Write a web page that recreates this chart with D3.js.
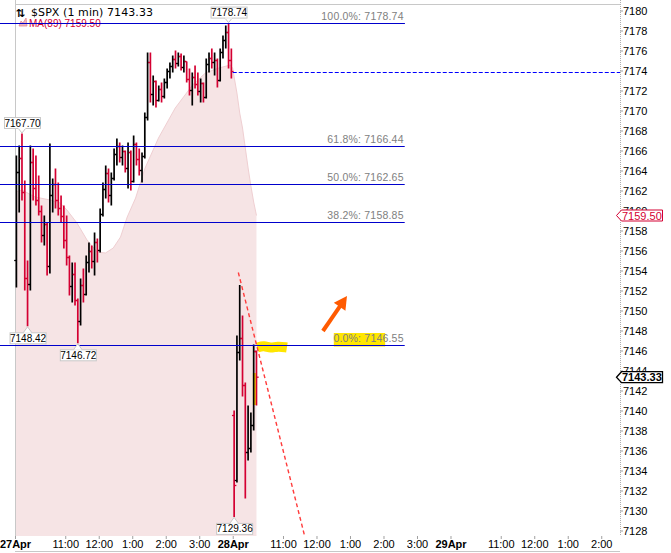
<!DOCTYPE html>
<html>
<head>
<meta charset="utf-8">
<script src="https://cdn.jsdelivr.net/npm/d3@7"></script>
<style>
  body { margin: 0; background: #fff; }
  svg { display: block; font-family: "Liberation Sans", Arial, sans-serif; }
</style>
</head>
<body>
<div id="chart"></div>
<script>
// time axis: session minutes counted from 27Apr 9:30, sessions joined end to end (390 min each)
const barMinutes = [
  2.5, 7.5, 12.5, 17.5, 22.5, 27.5, 32.5, 37.5, 42.5, 47.5,
  52.5, 57.5, 62.5, 67.5, 72.5, 77.5, 82.5, 87.5, 92.5, 97.5,
  102.5, 107.5, 112.5, 117.5, 122.5, 127.5, 132.5, 137.5, 142.5, 147.5,
  152.5, 157.5, 162.5, 167.5, 172.5, 177.5, 182.5, 187.5, 192.5, 197.5,
  202.5, 207.5, 212.5, 217.5, 222.5, 227.5, 232.5, 237.5, 242.5, 247.5,
  252.5, 257.5, 262.5, 267.5, 272.5, 277.5, 282.5, 287.5, 292.5, 297.5,
  302.5, 307.5, 312.5, 317.5, 322.5, 327.5, 332.5, 337.5, 342.5, 347.5,
  352.5, 357.5, 362.5, 367.5, 372.5, 377.5, 382.5, 387.5,
  392.5, 397.5, 402.5, 407.5, 412.5, 417.5, 422.5, 427.5, 432.5
];
const barOpen = [
  7155.0, 7163.8, 7165.2, 7161.8, 7153.2, 7152.6, 7164.8, 7162.2, 7161.0, 7159.9,
  7157.5, 7158.6, 7154.4, 7161.5, 7162.6, 7161.0, 7160.2, 7159.4, 7157.0, 7155.3,
  7152.4, 7153.6, 7151.0, 7148.9, 7152.5, 7151.6, 7154.8, 7155.9, 7154.9, 7156.8,
  7156.0, 7159.6, 7162.1, 7163.7, 7161.5, 7163.2, 7165.6, 7166.4, 7165.3, 7165.9,
  7164.2, 7165.8, 7162.9, 7166.6, 7165.1, 7164.0, 7165.4, 7169.3, 7174.8, 7171.6,
  7172.9, 7171.0, 7172.1, 7171.4, 7172.8, 7173.9, 7174.4, 7175.1, 7174.7, 7175.4,
  7174.3, 7174.9, 7173.1, 7172.0, 7173.3, 7172.6, 7171.9, 7172.7, 7171.3, 7174.6,
  7175.2, 7174.8, 7175.0, 7173.0, 7175.8, 7177.0, 7177.8, 7175.0,
  7139.5, 7133.0, 7145.8, 7147.2, 7142.5, 7135.8, 7136.2, 7138.5, 7145.9
];
const barHigh = [
  7165.5, 7166.5, 7167.7, 7163.0, 7155.0, 7166.5, 7166.2, 7165.5, 7163.5, 7160.5,
  7159.5, 7158.8, 7166.7, 7163.2, 7164.2, 7162.8, 7161.5, 7160.5, 7159.5, 7155.5,
  7154.8, 7154.8, 7151.2, 7153.2, 7154.2, 7155.5, 7156.8, 7156.5, 7157.8, 7157.2,
  7160.2, 7162.8, 7164.5, 7164.2, 7163.8, 7166.2, 7167.2, 7166.8, 7166.5, 7166.0,
  7166.8, 7166.0, 7167.5, 7166.8, 7166.2, 7165.8, 7169.8, 7175.8, 7175.8, 7173.5,
  7173.0, 7172.5, 7172.8, 7173.2, 7174.2, 7174.8, 7175.5, 7176.0, 7175.8, 7175.7,
  7175.5, 7174.9, 7174.2, 7173.8, 7174.5, 7173.8, 7173.2, 7172.8, 7175.2, 7175.8,
  7176.2, 7175.8, 7175.2, 7176.2, 7177.5, 7178.5, 7178.74, 7176.2,
  7140.0, 7147.5, 7152.55, 7149.5, 7142.8, 7140.5, 7139.8, 7146.6, 7146.0
];
const barLow = [
  7152.3, 7159.8, 7161.0, 7152.0, 7148.42, 7152.0, 7161.0, 7160.5, 7159.5, 7156.8,
  7156.5, 7153.5, 7153.7, 7159.8, 7160.2, 7159.5, 7158.8, 7156.2, 7154.5, 7151.5,
  7150.8, 7150.5, 7146.72, 7148.5, 7150.8, 7151.5, 7153.8, 7154.2, 7153.5, 7154.8,
  7155.8, 7159.4, 7161.2, 7160.8, 7160.5, 7163.0, 7164.5, 7164.8, 7164.5, 7163.8,
  7162.2, 7162.0, 7162.8, 7164.5, 7163.5, 7162.8, 7165.2, 7169.0, 7170.8, 7170.5,
  7170.3, 7170.9, 7170.8, 7171.2, 7172.2, 7173.2, 7173.8, 7174.2, 7174.4, 7174.0,
  7173.8, 7172.8, 7171.5, 7170.5, 7172.2, 7171.5, 7170.8, 7170.8, 7171.2, 7173.8,
  7174.2, 7173.5, 7172.3, 7172.9, 7175.2, 7176.2, 7174.2, 7173.2,
  7129.36, 7132.8, 7145.0, 7141.4, 7131.2, 7135.0, 7135.8, 7138.0, 7140.5
];
const barClose = [
  7163.8, 7165.2, 7161.8, 7153.2, 7152.6, 7164.8, 7162.2, 7161.0, 7159.9, 7157.5,
  7158.6, 7154.4, 7161.5, 7162.6, 7161.0, 7160.2, 7159.4, 7157.0, 7155.3, 7152.4,
  7153.6, 7151.0, 7148.9, 7152.5, 7151.6, 7154.8, 7155.9, 7154.9, 7156.8, 7156.0,
  7159.6, 7162.1, 7163.7, 7161.5, 7163.2, 7165.6, 7166.4, 7165.3, 7165.9, 7164.2,
  7165.8, 7162.9, 7166.6, 7165.1, 7164.0, 7165.4, 7169.3, 7174.8, 7171.6, 7172.9,
  7171.0, 7172.1, 7171.4, 7172.8, 7173.9, 7174.4, 7175.1, 7174.7, 7175.4, 7174.3,
  7174.9, 7173.1, 7172.0, 7173.3, 7172.6, 7171.9, 7172.7, 7171.3, 7174.6, 7175.2,
  7174.8, 7175.0, 7173.0, 7175.8, 7177.0, 7177.8, 7175.0, 7173.9,
  7132.5, 7145.8, 7147.2, 7142.5, 7135.8, 7136.2, 7138.5, 7145.9, 7143.33
];

// MA(89)
const maMinutes = [0, 12.6, 36, 63, 81, 93, 111, 129, 147, 162, 176, 189, 201, 216, 233, 257,
  287, 318, 341, 365, 386, 390, 392.5, 397.5, 402.5, 407.5, 412.5, 417.5, 422.5, 427.5, 432.5];
const maValues = [7161.85, 7162.05, 7161.35, 7161.05, 7160.75, 7160.05, 7158.75, 7157.05, 7155.85,
  7155.75, 7156.25, 7157.35, 7159.35, 7161.25, 7164.25, 7167.25, 7170.25, 7172.55, 7173.75,
  7174.25, 7174.55, 7174.2, 7173.35, 7171.75, 7169.75, 7168.25, 7166.25, 7164.25, 7162.45,
  7160.85, 7159.50];

// Fibonacci retracement
const fibLabels = ["100.0%", "61.8%", "50.0%", "38.2%", "0.0%"];
const fibValues = [7178.74, 7166.44, 7162.65, 7158.85, 7146.55];
const fibSpan = [-27, 698];

// previous close line
const prevClose = 7173.9;
const prevCloseSpan = [390, 1084];

// hand drawn trend line and arrow
const trendMinutes = [400, 519];
const trendValues = [7153.8, 7127.4];
const arrowMinutes = [551.6, 594.6];
const arrowValues = [7147.95, 7151.45];

// highlighter marks
const markMinutes = [434, 446, 458, 470, 487];
const markValues = [7146.3, 7146.5, 7146.2, 7146.45, 7146.3];
const labelMarkMinutes = [571, 663];
const labelMarkValues = [7147.75, 7146.4];
const barMarkMinutes = [426, 433.4];
const barMarkValues = [7143.75, 7140.55];

// high / low callouts
const calloutMinutes = [12.5, 382.5, 22.5, 112.5, 392.5];
const calloutValues = [7167.70, 7178.74, 7148.42, 7146.72, 7129.36];
const calloutUp = [true, true, false, false, false];

// axes
const yTicks = [7128, 7130, 7132, 7134, 7136, 7138, 7140, 7142, 7144, 7146, 7148, 7150, 7152,
  7154, 7156, 7158, 7160, 7162, 7164, 7166, 7168, 7170, 7172, 7174, 7176, 7178, 7180];
const xTickMinutes = [0, 90, 150, 210, 270, 330, 390, 480, 540, 600, 660, 720, 780, 870, 930, 990, 1050];
const xTickLabels = ["27Apr", "11:00", "12:00", "1:00", "2:00", "3:00", "28Apr", "11:00", "12:00",
  "1:00", "2:00", "3:00", "29Apr", "11:00", "12:00", "1:00", "2:00"];

const lastPrice = 7143.33;
const maLast = 7159.50;

const W = 671, H = 553;
const svg = d3.select("#chart").append("svg")
    .attr("width", W)
    .attr("height", H);

const x = d3.scaleLinear().domain([0, 1083.6]).range([15, 620]);
const y = d3.scaleLinear().domain([7127.45, 7180.65]).range([536, 4]);

const upColor = "#000000",
    downColor = "#d40032",
    fibColor = "#0000cc";

// MA area
const maPts = maMinutes.map((m, i) => [m, maValues[i]]);
svg.append("path")
    .datum(maPts)
    .attr("d", d3.area().x(d => x(d[0])).y0(536).y1(d => y(d[1])))
    .attr("fill", "#f6e4e5");
svg.append("path")
    .datum(maPts)
    .attr("d", d3.line().x(d => x(d[0])).y(d => y(d[1])))
    .attr("fill", "none")
    .attr("stroke", "#efcfd2")
    .attr("stroke-width", 1);

// frame
svg.append("line").attr("x1", 15).attr("x2", 620).attr("y1", 4.5).attr("y2", 4.5)
    .attr("stroke", "#c8c8c8");
svg.append("line").attr("x1", 15.5).attr("x2", 15.5).attr("y1", 0).attr("y2", 536)
    .attr("stroke", "#c8c8c8");
svg.append("line").attr("x1", 15).attr("x2", 620).attr("y1", 551.5).attr("y2", 551.5)
    .attr("stroke", "#c8c8c8");

// yellow highlighter
svg.append("path")
    .datum(markMinutes.map((m, i) => [m, markValues[i]]))
    .attr("d", d3.line().x(d => x(d[0])).y(d => y(d[1])).curve(d3.curveBasis))
    .attr("fill", "none")
    .attr("stroke", "#ffe600")
    .attr("stroke-width", 10);
svg.append("rect")
    .attr("x", x(labelMarkMinutes[0]))
    .attr("y", y(labelMarkValues[0]))
    .attr("width", x(labelMarkMinutes[1]) - x(labelMarkMinutes[0]))
    .attr("height", y(labelMarkValues[1]) - y(labelMarkValues[0]))
    .attr("fill", "#ffe600");
svg.append("rect")
    .attr("x", x(barMarkMinutes[0]))
    .attr("y", y(barMarkValues[0]))
    .attr("width", x(barMarkMinutes[1]) - x(barMarkMinutes[0]))
    .attr("height", y(barMarkValues[1]) - y(barMarkValues[0]))
    .attr("fill", "#ffe600");

// OHLC bars
const bars = svg.append("g").selectAll("g")
    .data(d3.range(barMinutes.length))
    .join("g")
    .attr("stroke", i => barClose[i] >= barOpen[i] ? upColor : downColor)
    .attr("stroke-width", 1.7);
bars.append("line")
    .attr("x1", i => x(barMinutes[i])).attr("x2", i => x(barMinutes[i]))
    .attr("y1", i => y(barHigh[i])).attr("y2", i => y(barLow[i]));
bars.append("line")
    .attr("x1", i => x(barMinutes[i]) - 2.2).attr("x2", i => x(barMinutes[i]))
    .attr("y1", i => y(barOpen[i])).attr("y2", i => y(barOpen[i]))
    .attr("stroke-width", 1.3);
bars.append("line")
    .attr("x1", i => x(barMinutes[i])).attr("x2", i => x(barMinutes[i]) + 2.2)
    .attr("y1", i => y(barClose[i])).attr("y2", i => y(barClose[i]))
    .attr("stroke-width", 1.3);

// fib lines and labels
const fib = svg.append("g");
fib.selectAll("line")
    .data(fibValues)
    .join("line")
    .attr("x1", x(fibSpan[0])).attr("x2", x(fibSpan[1]))
    .attr("y1", d => Math.round(y(d)) + 0.5).attr("y2", d => Math.round(y(d)) + 0.5)
    .attr("stroke", fibColor)
    .attr("stroke-width", 1.2);
fib.selectAll("text")
    .data(fibValues)
    .join("text")
    .attr("x", x(fibSpan[1]) - 1)
    .attr("y", d => y(d) - 3.5)
    .attr("text-anchor", "end")
    .attr("font-size", "10.5px")
    .attr("fill", "#808080")
    .attr("letter-spacing", "0.2px")
    .text((d, i) => fibLabels[i] + ": " + d.toFixed(2));

// previous close
svg.append("line")
    .attr("x1", x(prevCloseSpan[0])).attr("x2", x(prevCloseSpan[1]))
    .attr("y1", Math.round(y(prevClose)) + 0.5).attr("y2", Math.round(y(prevClose)) + 0.5)
    .attr("stroke", "#0000ff")
    .attr("stroke-width", 1.2)
    .attr("stroke-dasharray", "4,2");

// trend line
svg.append("line")
    .attr("x1", x(trendMinutes[0])).attr("y1", y(trendValues[0]))
    .attr("x2", x(trendMinutes[1])).attr("y2", y(trendValues[1]))
    .attr("stroke", "#ff3b3b")
    .attr("stroke-width", 1.4)
    .attr("stroke-dasharray", "4,3");

// orange arrow
{
    const x0 = x(arrowMinutes[0]), y0 = y(arrowValues[0]),
        x1 = x(arrowMinutes[1]), y1 = y(arrowValues[1]);
    const len = Math.hypot(x1 - x0, y1 - y0),
        ux = (x1 - x0) / len, uy = (y1 - y0) / len,
        hl = 13, hw = 7;
    const bx = x1 - ux * hl, by = y1 - uy * hl;
    svg.append("line")
        .attr("x1", x0).attr("y1", y0).attr("x2", bx + ux).attr("y2", by + uy)
        .attr("stroke", "#ff5a00")
        .attr("stroke-width", 4);
    svg.append("path")
        .attr("d", `M${x1},${y1}L${bx - uy * hw},${by + ux * hw}L${bx + uy * hw},${by - ux * hw}Z`)
        .attr("fill", "#ff5a00");
}

// legend
svg.append("text")
    .attr("x", 16).attr("y", 16.5)
    .attr("font-family", "DejaVu Sans")
    .attr("font-size", "11px")
    .attr("font-weight", "bold")
    .text("\u21C5");
svg.append("text")
    .attr("x", 31).attr("y", 16)
    .attr("font-family", "DejaVu Sans")
    .attr("font-size", "11px")
    .attr("textLength", 122)
    .attr("lengthAdjust", "spacing")
    .attr("fill", "#000")
    .text("$SPX (1 min) " + lastPrice.toFixed(2));
svg.append("path")
    .attr("d", "M19,26L21,21L23,23L26,18L27,26Z")
    .attr("fill", "#eeb6bd")
    .attr("stroke", "#e58a96")
    .attr("stroke-width", 0.8);
svg.append("text")
    .attr("x", 29).attr("y", 26.5)
    .attr("font-size", "10px")
    .attr("fill", downColor)
    .text("MA(89) " + maLast.toFixed(2));

// redraw the 100% line over the legend text
svg.append("line")
    .attr("x1", x(fibSpan[0])).attr("x2", x(fibSpan[1]))
    .attr("y1", Math.round(y(fibValues[0])) + 0.5).attr("y2", Math.round(y(fibValues[0])) + 0.5)
    .attr("stroke", fibColor)
    .attr("stroke-width", 1.2);

// high / low callouts
const callouts = svg.append("g").attr("font-size", "10px");
calloutValues.forEach((v, i) => {
    const cx = x(calloutMinutes[i]), cy = y(v),
        bw = 36, bh = 11;
    const by = calloutUp[i] ? cy - 5.5 - bh : cy + 6;
    const tipY = calloutUp[i] ? by + bh : by;
    callouts.append("path")
        .attr("d", `M${cx - 4},${tipY}L${cx},${cy + (calloutUp[i] ? -0.5 : 0.5)}L${cx + 4},${tipY}`)
        .attr("fill", "#fff")
        .attr("stroke", "#c8c8c8");
    callouts.append("rect")
        .attr("x", cx - bw / 2 + 0.5).attr("y", by + 0.5)
        .attr("width", bw).attr("height", bh)
        .attr("fill", "#fff")
        .attr("stroke", "#c8c8c8");
    callouts.append("line")
        .attr("x1", cx - 3.5).attr("x2", cx + 3.5)
        .attr("y1", calloutUp[i] ? by + bh + 0.5 : by + 0.5)
        .attr("y2", calloutUp[i] ? by + bh + 0.5 : by + 0.5)
        .attr("stroke", "#fff");
    callouts.append("text")
        .attr("x", cx + 0.5).attr("y", by + 9.5)
        .attr("text-anchor", "middle")
        .attr("fill", "#000")
        .text(v.toFixed(2));
});

// right axis
const yAxis = svg.append("g")
    .attr("transform", "translate(620,0)")
    .call(d3.axisRight(y).tickValues(yTicks).tickSize(3).tickPadding(0).tickFormat(d3.format("d")));
yAxis.select(".domain").remove();
yAxis.selectAll(".tick line").attr("stroke", "#a0a0a0");
yAxis.selectAll(".tick text")
    .attr("font-family", "Liberation Sans, Arial, sans-serif")
    .attr("font-size", "11px")
    .attr("fill", "#000");
svg.append("line")
    .attr("x1", 620.5).attr("x2", 620.5).attr("y1", 0).attr("y2", 536)
    .attr("stroke", "#b0b0b0")
    .attr("stroke-dasharray", "1,1");

// value markers on the axis
function marker(v, color, bold) {
    const yy = y(v);
    svg.append("path")
        .attr("d", `M616.5,${yy}L621.5,${yy - 5.5}H662.5V${yy + 5.5}H621.5Z`)
        .attr("fill", "#fff")
        .attr("stroke", color)
        .attr("stroke-width", bold ? 1.3 : 1);
    svg.append("text")
        .attr("x", 622).attr("y", yy + 4)
        .attr("font-size", "11px")
        .attr("font-weight", bold ? "bold" : "normal")
        .attr("fill", color)
        .text(v.toFixed(2));
}
marker(maLast, downColor, false);
marker(lastPrice, "#000", true);

// bottom axis
const xAxis = svg.append("g")
    .attr("transform", "translate(0,536)")
    .call(d3.axisBottom(x).tickValues(xTickMinutes).tickSize(3).tickPadding(1)
        .tickFormat((d, i) => xTickLabels[i]));
xAxis.select(".domain").remove();
xAxis.selectAll(".tick line").attr("stroke", "#a0a0a0");
xAxis.selectAll(".tick text")
    .attr("font-family", "Liberation Sans, Arial, sans-serif")
    .attr("font-size", "11px")
    .attr("fill", "#000")
    .attr("font-weight", (d, i) => /Apr/.test(xTickLabels[i]) ? "bold" : "normal");
</script>
</body>
</html>
